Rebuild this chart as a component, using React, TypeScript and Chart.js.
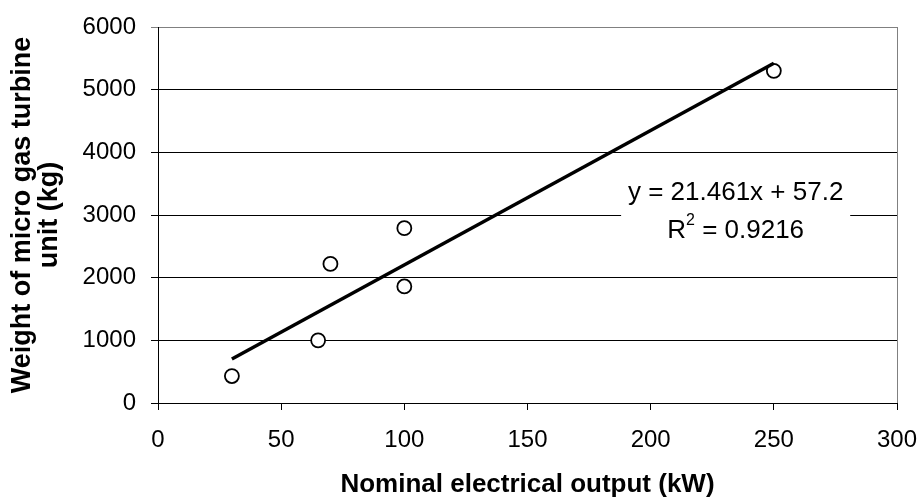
import React, { useEffect, useRef } from "react";
import { Chart, registerables } from "chart.js";

Chart.register(...registerables);

const outputKW = [30, 65, 70, 100, 100, 250];
const weightKg = [430, 1000, 2220, 1860, 2790, 5300];
const trendX = [30, 250];
const trendY = [701, 5422];
const xTicks = [0, 50, 100, 150, 200, 250, 300];
const yTicks = [0, 1000, 2000, 3000, 4000, 5000, 6000];
const equationText = "y = 21.461x + 57.2";
const r2Value = "0.9216";
const xTitle = "Nominal electrical output (kW)";
const yTitle = ["Weight of micro gas turbine", "unit (kg)"];

const FONT = "'Liberation Sans', Arial, sans-serif";
const ANN = 26;

const decorPlugin = {
  id: "decor",
  afterDatasetsDraw(chart: any) {
    const { ctx, chartArea, scales } = chart;
    const xs = scales.x;
    const ys = scales.y;
    ctx.save();
    ctx.strokeStyle = "#808080";
    ctx.lineWidth = 1;
    ctx.beginPath();
    ctx.moveTo(Math.round(chartArea.right) + 0.5, chartArea.top);
    ctx.lineTo(Math.round(chartArea.right) + 0.5, chartArea.bottom);
    ctx.stroke();

    const x0 = xs.getPixelForValue(188);
    const x1 = xs.getPixelForValue(281);
    const y0 = ys.getPixelForValue(3550);
    const y1 = ys.getPixelForValue(2450);
    ctx.fillStyle = "#ffffff";
    ctx.fillRect(x0, y0, x1 - x0, y1 - y0);

    const cx = (x0 + x1) / 2;
    ctx.fillStyle = "#000";
    ctx.textBaseline = "middle";
    ctx.textAlign = "center";
    ctx.font = `${ANN}px ${FONT}`;
    ctx.fillText(equationText, cx, ys.getPixelForValue(3350));

    const ly = ys.getPixelForValue(2755);
    const partR = "R";
    const partRest = " = " + r2Value;
    ctx.font = `${ANN}px ${FONT}`;
    const wR = ctx.measureText(partR).width;
    const wRest = ctx.measureText(partRest).width;
    ctx.font = `16px ${FONT}`;
    const w2 = ctx.measureText("2").width;
    const total = wR + w2 + wRest;
    let sx = cx - total / 2;
    ctx.textAlign = "left";
    ctx.font = `${ANN}px ${FONT}`;
    ctx.fillText(partR, sx, ly);
    sx += wR;
    ctx.font = `16px ${FONT}`;
    ctx.fillText("2", sx, ly - 10);
    sx += w2;
    ctx.font = `${ANN}px ${FONT}`;
    ctx.fillText(partRest, sx, ly);
    ctx.restore();
  },
};

export default function App() {
  const ref = useRef<HTMLCanvasElement | null>(null);
  useEffect(() => {
    if (!ref.current) return;
    const chart = new Chart(ref.current, {
      type: "scatter",
      data: {
        datasets: [
          {
            type: "line",
            label: "Trend",
            data: trendX.map((x, i) => ({ x, y: trendY[i] })),
            borderColor: "#000",
            borderWidth: 3.5,
            pointRadius: 0,
            fill: false,
          } as any,
          {
            label: "Weight",
            data: outputKW.map((x, i) => ({ x, y: weightKg[i] })),
            pointStyle: "circle",
            pointRadius: 7,
            pointBorderWidth: 1.8,
            borderColor: "#000",
            backgroundColor: "#fff",
            pointBackgroundColor: "#fff",
          } as any,
        ],
      },
      options: {
        animation: false,
        responsive: true,
        maintainAspectRatio: false,
        layout: { padding: { top: 27, right: 20, left: 0, bottom: 0 } },
        plugins: {
          legend: { display: false },
          tooltip: { enabled: false },
        },
        scales: {
          x: {
            type: "linear",
            min: 0,
            max: 300,
            afterBuildTicks: (s: any) => {
              s.ticks = xTicks.map((v) => ({ value: v }));
            },
            afterFit: (s: any) => {
              s.height = 97;
              s.paddingLeft = 0;
              s.paddingRight = 0;
            },
            ticks: {
              color: "#000",
              font: { family: FONT, size: 24 },
              padding: 16,
              maxRotation: 0,
              callback: (v: any) => String(v),
            },
            grid: {
              drawOnChartArea: false,
              drawTicks: true,
              tickLength: 7,
              color: "#000",
            },
            border: { display: true, color: "#000", width: 1 },
            title: {
              display: true,
              text: xTitle,
              color: "#000",
              font: { family: FONT, size: 26, weight: "bold" },
              padding: { top: 0, bottom: 0 },
            },
          },
          y: {
            type: "linear",
            min: 0,
            max: 6000,
            afterBuildTicks: (s: any) => {
              s.ticks = yTicks.map((v) => ({ value: v }));
            },
            afterFit: (s: any) => {
              s.width = 158;
              s.paddingTop = 0;
              s.paddingBottom = 0;
            },
            ticks: {
              color: "#000",
              font: { family: FONT, size: 24 },
              padding: 15,
              callback: (v: any) => String(v),
            },
            grid: {
              drawTicks: true,
              tickLength: 7,
              color: (c: any) => (c.tick && c.tick.value === 6000 ? "#808080" : "#000"),
              lineWidth: 1,
            },
            border: { display: true, color: "#000", width: 1 },
            title: {
              display: true,
              text: yTitle,
              color: "#000",
              font: { family: FONT, size: 27, weight: "bold", lineHeight: 1.0 },
              padding: { top: 9, bottom: 0 },
            },
          },
        },
      } as any,
      plugins: [decorPlugin],
    });
    return () => chart.destroy();
  }, []);
  return (
    <div style={{ position: "fixed", left: 0, top: 0, width: 917, height: 500, background: "#fff" }}>
      <canvas ref={ref} />
    </div>
  );
}
